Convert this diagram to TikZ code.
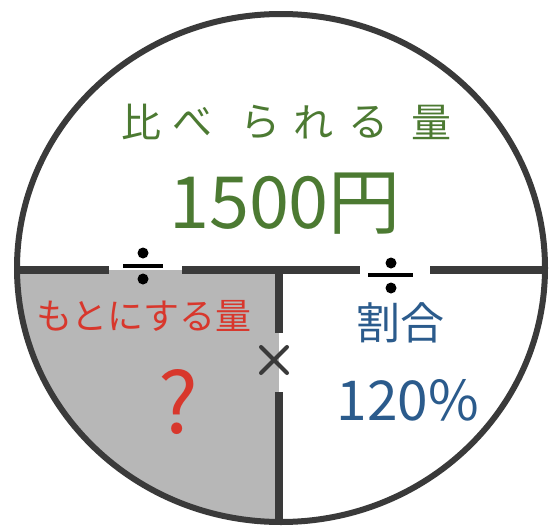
\documentclass[tikz,border=0pt]{standalone}
\usepackage{fontspec}
\setmainfont{Noto Sans CJK JP}
\definecolor{lineC}{HTML}{3A3A3A}
\definecolor{grayC}{HTML}{B7B7B7}
\definecolor{greenC}{HTML}{4C7A32}
\definecolor{redC}{HTML}{D8372C}
\definecolor{blueC}{HTML}{2B5B8C}
\tikzset{
  ln/.style={draw=lineC, line width=8pt},
  rim/.style={draw=lineC, line width=6pt},
  sym/.style={draw=black, line width=3.5pt},
  dotc/.style={fill=black},
  txt/.style={inner sep=0pt, anchor=center},
}
\begin{document}
\begin{tikzpicture}[x=1pt,y=-1pt]
\useasboundingbox (0,0) rectangle (549,530);
\fill[white] (0,0) rectangle (549,530);
% gray quadrant
\begin{scope}
  \clip (281,268) ellipse [x radius=264, y radius=254];
  \fill[grayC] (0,270) rectangle (279,530);
\end{scope}
% rim
\draw[rim] (281,268) ellipse [x radius=264, y radius=254];
% horizontal line with gaps
\coordinate (hL) at (17,270);
\coordinate (g1a) at (109,270);
\coordinate (g1b) at (182,270);
\coordinate (g2a) at (360,270);
\coordinate (g2b) at (430,270);
\coordinate (hR) at (546,270);
\draw[ln] (hL) -- (g1a);
\draw[ln] (g1b) -- (g2a);
\draw[ln] (g2b) -- (hR);
% vertical line with gap
\coordinate (vT) at (279,266);
\coordinate (v1) at (279,333);
\coordinate (v2) at (279,392);
\coordinate (vB) at (279,522);
\draw[ln] (vT) -- (v1);
\draw[ln] (v2) -- (vB);
% division signs
\coordinate (d1a) at (123,266); \coordinate (d1b) at (163,266);
\draw[sym] (d1a) -- (d1b);
\fill[dotc] (143,253) circle (5.5);
\fill[dotc] (143,279) circle (5.5);
\coordinate (d2a) at (368,275); \coordinate (d2b) at (413,275);
\draw[sym] (d2a) -- (d2b);
\fill[dotc] (391,263) circle (5.5);
\fill[dotc] (391,288) circle (5.5);
% multiplication sign
\coordinate (m1) at (261,347); \coordinate (m2) at (287,373);
\coordinate (m3) at (261,373); \coordinate (m4) at (287,347);
\draw[draw=lineC, line width=4pt, line cap=round] (m1) -- (m2);
\draw[draw=lineC, line width=4pt, line cap=round] (m3) -- (m4);
% texts
\node[txt, text=greenC, font=\fontsize{40}{40}\selectfont] (c1) at (141,122) {比};
\node[txt, text=greenC, font=\fontsize{40}{40}\selectfont] (c2) at (192,122) {べ};
\node[txt, text=greenC, font=\fontsize{40}{40}\selectfont] (c3) at (260,122) {ら};
\node[txt, text=greenC, font=\fontsize{40}{40}\selectfont] (c4) at (313,122) {れ};
\node[txt, text=greenC, font=\fontsize{40}{40}\selectfont] (c5) at (368,122) {る};
\node[txt, text=greenC, font=\fontsize{40}{40}\selectfont] (c6) at (431,122) {量};
\node[txt, text=greenC, font=\fontsize{72}{72}\selectfont] (yen) at (285,204) {1500円};
\node[txt, text=redC, font=\fontsize{36}{36}\selectfont] (moto) at (144,316) {もとにする量};
\node[txt, text=redC, font=\fontsize{84}{84}\selectfont] (q) at (178,402) {?};
\node[txt, text=blueC, font=\fontsize{44}{44}\selectfont] (wari) at (400,323) {割合};
\node[txt, text=blueC, font=\fontsize{55}{55}\selectfont] (pct) at (408,400) {120\%};
\end{tikzpicture}
\end{document}
